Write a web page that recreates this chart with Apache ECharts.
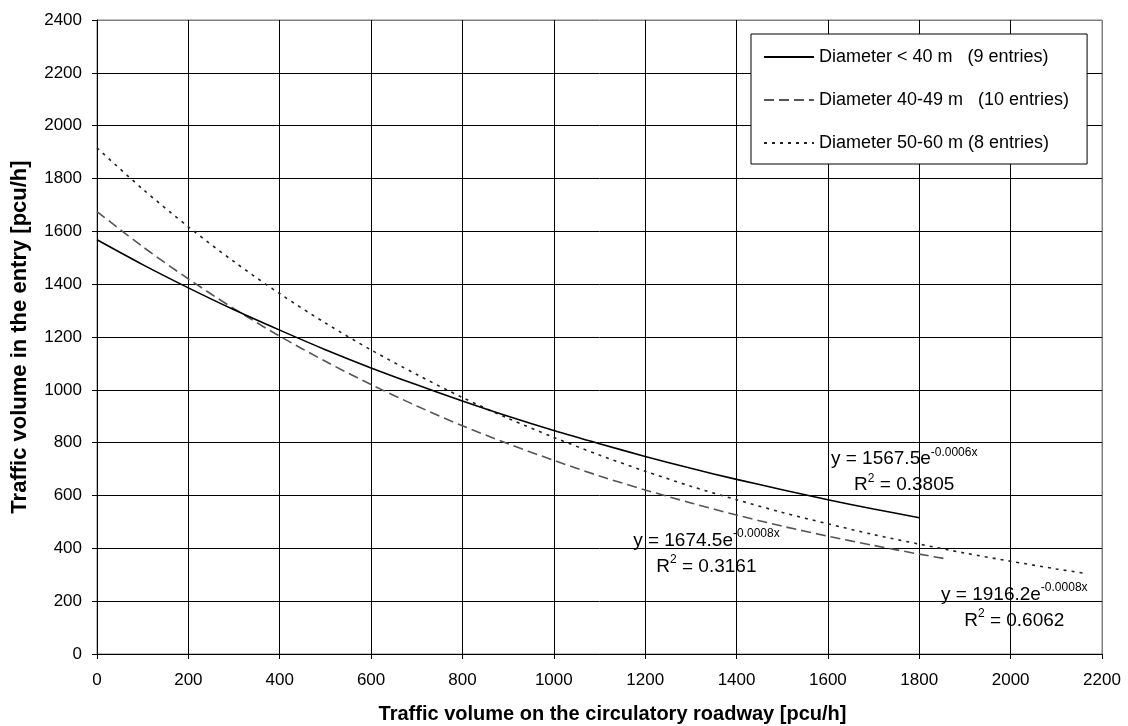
<!DOCTYPE html>
<html>
<head>
<meta charset="utf-8">
<script src="https://cdn.jsdelivr.net/npm/echarts@6/dist/echarts.min.js"></script>
<style>
  html, body { margin: 0; padding: 0; background: #fff; }
  #chart { width: 1128px; height: 726px; }
</style>
</head>
<body>
<div id="chart"></div>
<script>
// values
const xSmall = [0, 100, 200, 300, 400, 500, 600, 700, 800, 900, 1000, 1100, 1200, 1300, 1400, 1500, 1600, 1700, 1800]
const ySmall = [1568, 1474, 1386, 1303, 1226, 1152, 1083, 1019, 958, 900, 846, 796, 748, 703, 661, 622, 584, 549, 516]

const xMedium = [0, 100, 200, 300, 400, 500, 600, 700, 800, 900, 1000, 1100, 1200, 1300, 1400, 1500, 1600, 1700, 1800, 1860]
const yMedium = [1675, 1542, 1420, 1307, 1203, 1108, 1020, 939, 864, 796, 733, 674, 621, 572, 526, 484, 446, 411, 378, 360]

const xLarge = [0, 100, 200, 300, 400, 500, 600, 700, 800, 900, 1000, 1100, 1200, 1300, 1400, 1500, 1600, 1700, 1800, 1900, 2000, 2100, 2160]
const yLarge = [1916, 1760, 1617, 1485, 1364, 1253, 1151, 1058, 971, 892, 820, 753, 692, 635, 584, 536, 493, 452, 416, 382, 351, 322, 306]

const seriesNames = [
  'Diameter < 40 m   (9 entries)',
  'Diameter 40-49 m   (10 entries)',
  'Diameter 50-60 m (8 entries)'
]
const equations = ['y = 1567.5e', 'y = 1674.5e', 'y = 1916.2e']
const exponents = ['-0.0006x', '-0.0008x', '-0.0008x']
const rSquared = ['0.3805', '0.3161', '0.6062']

const font = 'Liberation Sans, Arial, sans-serif'

function pairs (xs, ys) {
  return xs.map((x, i) => [x, ys[i]])
}

// grid lines black, the last one grey like the plot border
function gridColors (count) {
  const c = []
  for (let i = 0; i < count; i++) c.push(i === count - 1 ? '#808080' : '#000')
  return c
}

// trend equation label, anchored in data units
function eqLabel (i, coord) {
  return {
    symbol: 'circle',
    symbolSize: 0,
    silent: true,
    data: [{
      coord: coord,
      label: {
        show: true,
        position: 'inside',
        align: 'center',
        verticalAlign: 'middle',
        formatter: '{a|' + equations[i] + '}{s|' + exponents[i] + '}\n{a|R}{s|2}{a| = ' + rSquared[i] + '}',
        rich: {
          a: { fontFamily: font, fontSize: 19, color: '#000', lineHeight: 26 },
          s: { fontFamily: font, fontSize: 12, color: '#000', verticalAlign: 'top', lineHeight: 18 }
        }
      }
    }]
  }
}

const chart = echarts.init(document.getElementById('chart'))
const option = {
  animation: false,
  backgroundColor: '#fff',
  textStyle: { fontFamily: font },
  grid: {
    left: 97,
    right: 26,
    top: 20,
    bottom: 72,
    outerBoundsMode: 'none',
    show: true,
    borderColor: '#808080',
    borderWidth: 1
  },
  legend: {
    orient: 'vertical',
    left: 751,
    top: 34,
    padding: [14, 18, 12, 12],
    itemGap: 25,
    itemWidth: 50,
    itemHeight: 14,
    backgroundColor: '#fff',
    borderColor: '#000',
    borderWidth: 1,
    borderRadius: 0,
    itemStyle: { opacity: 0 },
    textStyle: { fontFamily: font, fontSize: 18, color: '#000' },
    data: seriesNames
  },
  xAxis: {
    type: 'value',
    min: 0,
    max: 2200,
    interval: 200,
    name: 'Traffic volume on the circulatory roadway [pcu/h]',
    nameLocation: 'middle',
    nameGap: 50,
    nameTextStyle: { fontFamily: font, fontSize: 20, fontWeight: 'bold', color: '#000', padding: [0, 0, 0, 26] },
    axisLine: { lineStyle: { color: '#000', width: 1 } },
    axisTick: { show: true, length: 5, lineStyle: { color: '#000' } },
    axisLabel: { fontFamily: font, fontSize: 17, color: '#000', margin: 18, formatter: v => String(v) },
    splitLine: { show: true, lineStyle: { color: gridColors(12), width: 1 } }
  },
  yAxis: {
    type: 'value',
    min: 0,
    max: 2400,
    interval: 200,
    name: 'Traffic volume in the entry [pcu/h]',
    nameLocation: 'middle',
    nameGap: 66,
    nameTextStyle: { fontFamily: font, fontSize: 22, fontWeight: 'bold', color: '#000' },
    axisLine: { show: true, lineStyle: { color: '#000', width: 1 } },
    axisTick: { show: true, length: 5, lineStyle: { color: '#000' } },
    axisLabel: { fontFamily: font, fontSize: 17, color: '#000', margin: 15, formatter: v => String(v) },
    splitLine: { show: true, lineStyle: { color: gridColors(13), width: 1 } }
  },
  series: [
    {
      name: seriesNames[0],
      type: 'line',
      smooth: 0.3,
      showSymbol: false,
      symbol: 'none',
      lineStyle: { color: '#000', width: 1.6, type: 'solid' },
      itemStyle: { color: '#000' },
      data: pairs(xSmall, ySmall),
      z: 4,
      markPoint: eqLabel(0, [1767, 688])
    },
    {
      name: seriesNames[1],
      type: 'line',
      smooth: 0.3,
      showSymbol: false,
      symbol: 'none',
      lineStyle: { color: '#555', width: 1.6, type: [10, 5] },
      itemStyle: { color: '#000' },
      data: pairs(xMedium, yMedium),
      z: 3,
      markPoint: eqLabel(1, [1334, 381])
    },
    {
      name: seriesNames[2],
      type: 'line',
      smooth: 0.3,
      showSymbol: false,
      symbol: 'none',
      lineStyle: { color: '#222', width: 1.6, type: [3, 5] },
      itemStyle: { color: '#000' },
      data: pairs(xLarge, yLarge),
      z: 3,
      markPoint: eqLabel(2, [2008, 176])
    }
  ]
}
chart.setOption(option)
</script>
</body>
</html>
